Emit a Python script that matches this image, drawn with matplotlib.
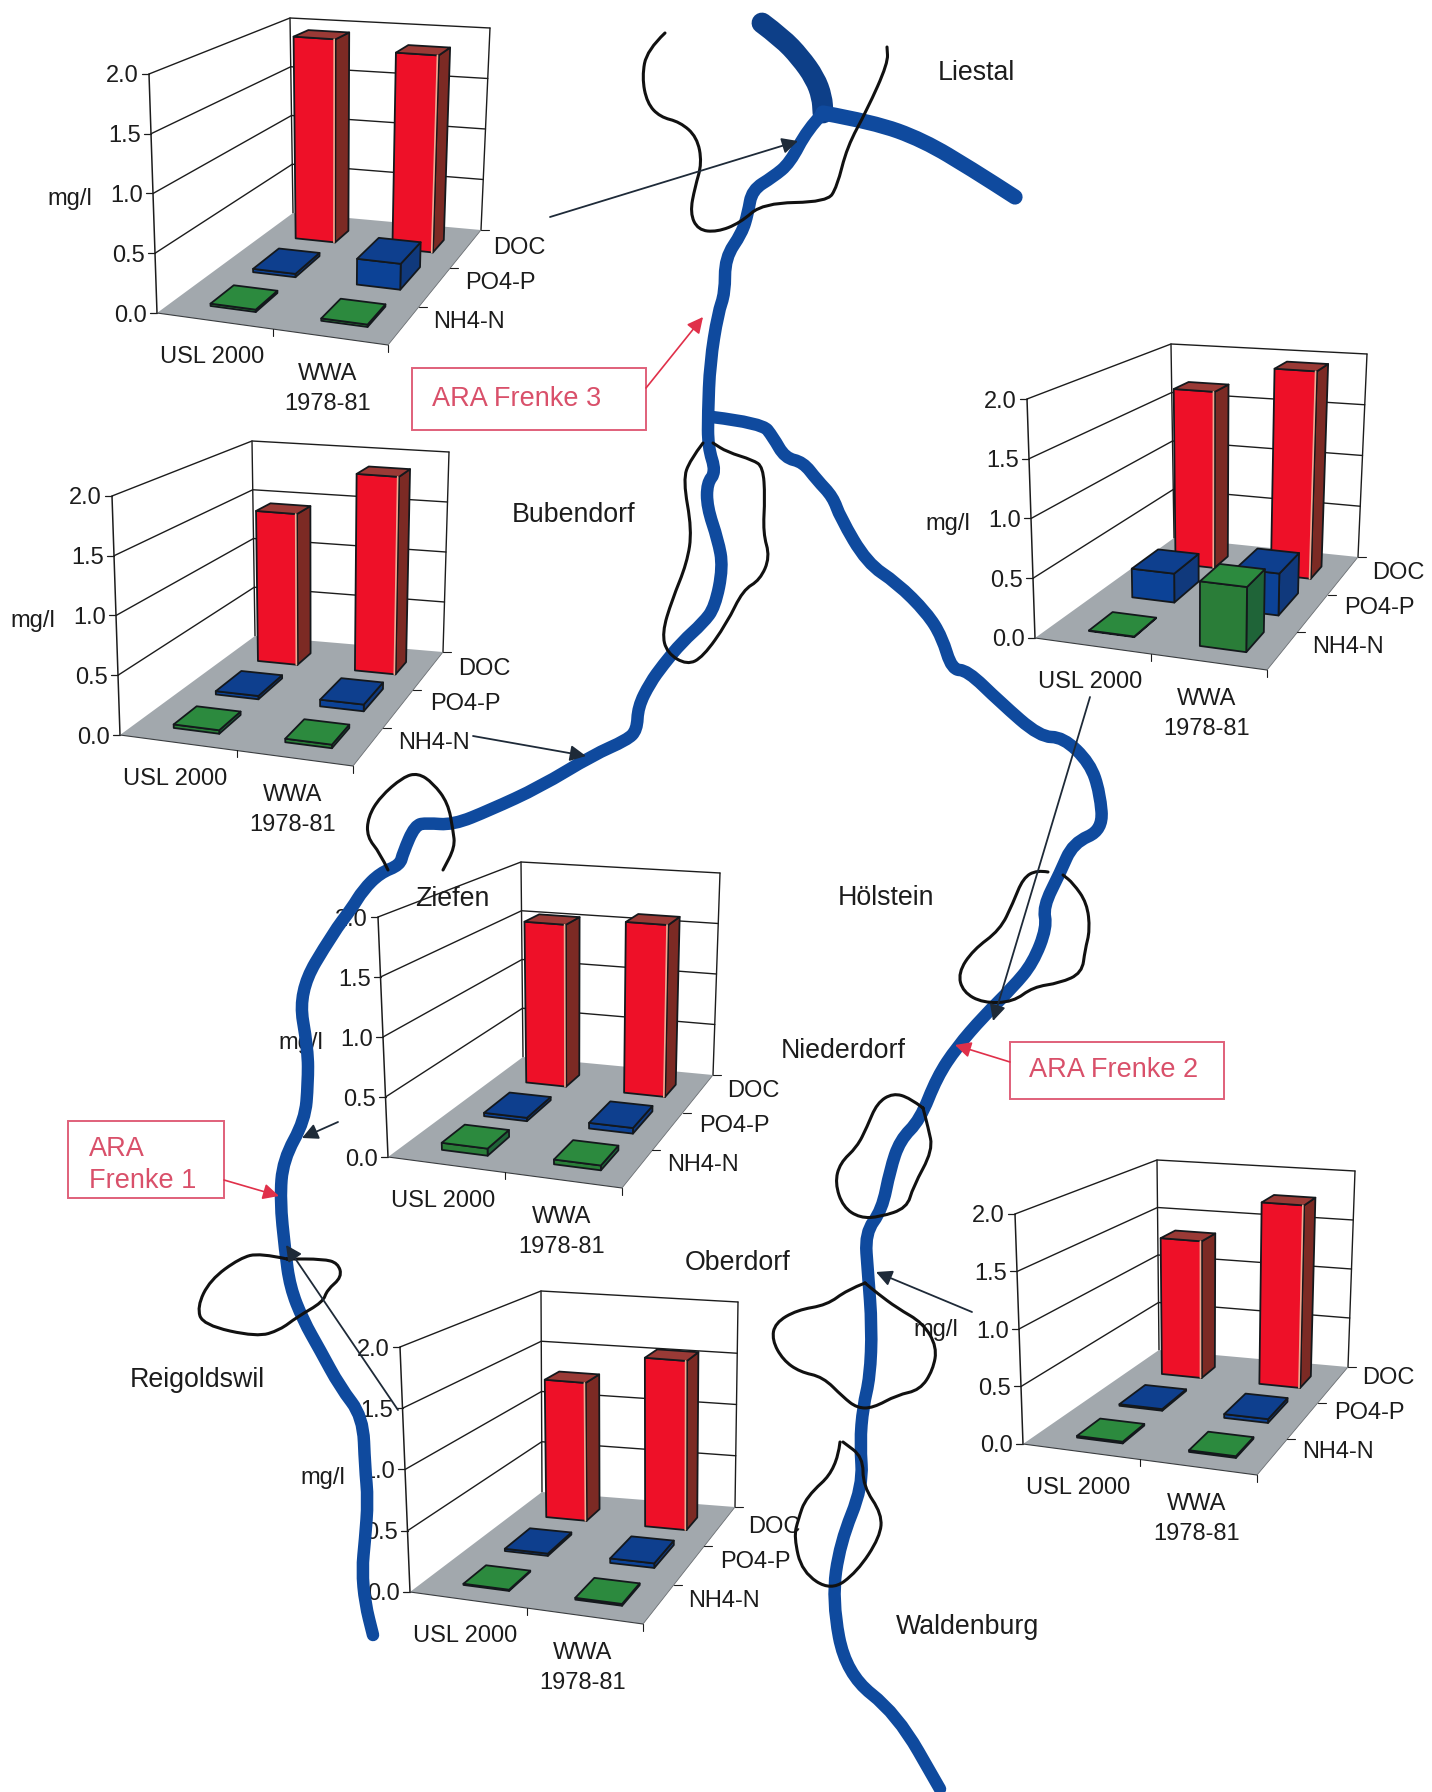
import numpy as np
import matplotlib
matplotlib.use("Agg")
import matplotlib.pyplot as plt
from matplotlib.patches import Polygon, PathPatch, Rectangle
from matplotlib.path import Path

plt.rcParams['font.family'] = ['Liberation Sans', 'DejaVu Sans']

W, H = 1432, 1792

# Concentrations in mg/l at the six stations, two surveys each
station_names = ["Liestal", "Bubendorf", "Hoelstein", "Ziefen", "Oberdorf", "Reigoldswil"]
doc_usl = [1.96, 1.46, 1.70, 1.56, 1.36, 1.30]
doc_wwa = [1.87, 1.89, 1.96, 1.63, 1.79, 1.58]
po4_usl = [0.03, 0.03, 0.26, 0.03, 0.015, 0.02]
po4_wwa = [0.23, 0.06, 0.37, 0.05, 0.035, 0.04]
nh4_usl = [0.02, 0.03, 0.005, 0.06, 0.015, 0.01]
nh4_wwa = [0.02, 0.03, 0.54, 0.04, 0.015, 0.015]

z_ticks = [0.0, 0.5, 1.0, 1.5, 2.0]
series_labels = ["NH4-N", "PO4-P", "DOC"]

# Chart frames in figure pixels:
# floor front-left, wall top front-left, back-left top, back-left floor,
# back-right top, back-right floor, floor front-right
frames = [
    [(157, 313), (149, 74), (290, 18), (293, 213), (490, 28), (481, 230), (388, 345)],
    [(120, 735), (112, 496), (252, 441), (255, 636), (449, 452), (443, 652), (353, 766)],
    [(1035, 638), (1027, 399), (1171, 344), (1174, 538), (1367, 354), (1358, 557), (1267, 670)],
    [(388, 1157), (378, 917), (521, 862), (523, 1057), (720, 873), (713, 1075), (622, 1188)],
    [(1023, 1444), (1015, 1214), (1157, 1160), (1159, 1350), (1355, 1171), (1348, 1367), (1257, 1475)],
    [(410, 1592), (400, 1347), (541, 1291), (542, 1492), (738, 1302), (735, 1507), (643, 1624)],
]

# Bar footprints on the floor, as fractions of its width and depth
col_spans = [(0.165, 0.365), (0.655, 0.86)]
row_spans = [(0.12, 0.30), (0.45, 0.65), (0.78, 0.89)]

RED = dict(front="#ee1028", side="#7c2a24", top="#9a3a36", shine="#f0a890")
BLUE = dict(front="#0c4296", side="#10397c", top="#0e3f8e", shine=None)
GREEN = dict(front="#2a7d38", side="#1f6438", top="#2c8a3e", shine=None)
row_colors = [GREEN, BLUE, RED]

INK = "#1c1c1c"
RIVER = "#0f4a9e"
PINK = "#d9506a"

# Map lines in figure pixels
ergolz_upper = [(762, 23), (782, 38), (800, 57), (815, 78), (822, 97), (823, 113)]
ergolz_lower = [(823, 113), (873, 122), (923, 140), (973, 170), (1015, 197)]
frenke_main = [
    (823, 113), (807, 130), (790, 163), (773, 177), (752, 190), (748, 213), (742, 233), (725, 258),
    (725, 293), (718, 313), (710, 363), (708, 413), (708, 447), (716, 472), (707, 483), (707, 507),
    (718, 540), (723, 567), (715, 607), (703, 623), (682, 642), (663, 665), (650, 683), (638, 707),
    (637, 730), (627, 740), (593, 755), (540, 787), (490, 810), (453, 825), (427, 823), (415, 825),
    (403, 853), (400, 865), (380, 873), (363, 890), (352, 908), (333, 933), (298, 992), (308, 1050),
    (308, 1083), (305, 1120), (283, 1160), (280, 1200), (285, 1250), (290, 1287), (303, 1320),
    (320, 1350), (340, 1387), (363, 1417), (365, 1467), (368, 1500), (365, 1540), (362, 1570),
    (365, 1603), (373, 1635),
]
frenke_east = [
    (712, 417), (762, 423), (773, 437), (785, 458), (803, 462), (817, 480), (833, 497), (840, 517),
    (867, 563), (897, 583), (927, 613), (942, 637), (952, 670), (967, 670), (1000, 702), (1040, 737),
    (1063, 737), (1090, 763), (1100, 793), (1103, 830), (1073, 843), (1060, 873), (1043, 907),
    (1047, 927), (1033, 963), (1013, 987), (983, 1017), (957, 1047), (937, 1077), (920, 1120),
    (900, 1140), (890, 1170), (882, 1210), (865, 1233), (868, 1273), (872, 1327), (870, 1377),
    (863, 1407), (860, 1443), (863, 1486), (840, 1543), (832, 1600), (846, 1674), (897, 1714),
    (940, 1789),
]

outline_liestal = [
    (665, 33), (647, 50), (642, 77), (647, 103), (660, 117), (680, 122), (697, 137), (702, 163),
    (695, 187), (690, 213), (698, 230), (717, 232), (740, 223), (763, 203), (827, 202), (837, 187),
    (847, 147), (867, 110), (888, 63), (887, 47),
]
outline_bubendorf = [
    (703, 443), (690, 460), (683, 480), (692, 530), (687, 563), (672, 600), (662, 633), (667, 653),
    (687, 665), (703, 657), (727, 623), (743, 590), (760, 580), (770, 557), (763, 533), (765, 497),
    (763, 467), (753, 460), (727, 452), (713, 443),
]
outline_ziefen = [
    (388, 870), (380, 853), (367, 837), (368, 817), (380, 797), (403, 777), (418, 773), (433, 783),
    (448, 803), (453, 830), (455, 847), (443, 870),
]
outline_hoelstein = [
    (1048, 872), (1037, 870), (1023, 878), (1013, 903), (1000, 930), (973, 950), (958, 973),
    (963, 992), (983, 1003), (1013, 1002), (1033, 987), (1060, 983), (1082, 973), (1085, 950),
    (1090, 930), (1087, 903), (1073, 883), (1063, 875),
]
outline_niederdorf = [
    (923, 1108), (910, 1098), (893, 1093), (877, 1103), (867, 1127), (857, 1147), (840, 1163),
    (835, 1183), (843, 1207), (860, 1218), (880, 1217), (907, 1208), (913, 1187), (933, 1150),
    (928, 1127), (923, 1108),
]
outline_oberdorf = [
    (865, 1283), (847, 1290), (827, 1305), (797, 1310), (775, 1323), (772, 1340), (783, 1360),
    (800, 1372), (823, 1377), (843, 1397), (857, 1408), (873, 1408), (897, 1395), (920, 1390),
    (933, 1370), (937, 1347), (923, 1323), (897, 1308), (877, 1293), (865, 1283),
]
outline_waldenburg = [
    (840, 1442), (837, 1469), (806, 1497), (798, 1520), (794, 1537), (802, 1572), (831, 1591),
    (857, 1572), (880, 1537), (882, 1514), (863, 1486), (863, 1457), (843, 1442),
]
outline_reigoldswil = [
    (287, 1259), (260, 1253), (240, 1258), (210, 1280), (197, 1307), (203, 1325), (257, 1337),
    (280, 1330), (297, 1317), (323, 1302), (327, 1290), (342, 1277), (338, 1263), (323, 1259),
    (287, 1259),
]
outlines = [outline_liestal, outline_bubendorf, outline_ziefen, outline_hoelstein,
            outline_niederdorf, outline_oberdorf, outline_waldenburg, outline_reigoldswil]

place_names = [("Liestal", 976, 73), ("Bubendorf", 574, 515), ("Ziefen", 452, 899),
               ("Hölstein", 886, 898), ("Niederdorf", 843, 1051), ("Oberdorf", 738, 1263),
               ("Reigoldswil", 197, 1380), ("Waldenburg", 968, 1627)]

station_arrows = [((550, 217), (798, 141)), ((473, 736), (586, 756)), ((1090, 697), (993, 1021)),
                  ((338, 1122), (302, 1138)), ((972, 1312), (876, 1272)), ((398, 1410), (286, 1245))]


class Frame:
    """Oblique view of one chart: floor position plus a height vector, both bilinear."""

    def __init__(self, corners):
        f00, tfl, tbl, f01, tbr, f11, f10 = [np.array(c, float) for c in corners]
        self.f00, self.f10, self.f01, self.f11 = f00, f10, f01, f11
        self.z00 = tfl - f00
        self.z01 = tbl - f01
        self.z11 = tbr - f11
        self.z10 = self.z00 + self.z11 - self.z01

    def __call__(self, u, v, z=0.0):
        floor = ((1 - u) * (1 - v) * self.f00 + u * (1 - v) * self.f10
                 + (1 - u) * v * self.f01 + u * v * self.f11)
        rise = ((1 - u) * (1 - v) * self.z00 + u * (1 - v) * self.z10
                + (1 - u) * v * self.z01 + u * v * self.z11)
        return floor + rise * z / 2.0


fig = plt.figure(figsize=(W / 100, H / 100), dpi=100, facecolor="white")
ax = fig.add_axes([0, 0, 1, 1])
ax.set_xlim(0, W)
ax.set_ylim(H, 0)
ax.axis("off")


def line(points, lw=1.0, color=INK, zorder=2):
    pts = np.array(points)
    ax.plot(pts[:, 0], pts[:, 1], color=color, lw=lw, zorder=zorder, solid_capstyle="round")


def draw_bar(P, col, row, value, style, zorder):
    u0, u1 = col_spans[col]
    v0, v1 = row_spans[row]
    edge = "#14181c"
    top = [P(u0, v0, value), P(u1, v0, value), P(u1, v1, value), P(u0, v1, value)]
    front = [P(u0, v0), P(u1, v0), P(u1, v0, value), P(u0, v0, value)]
    side = [P(u1, v0), P(u1, v1), P(u1, v1, value), P(u1, v0, value)]
    for poly, color in ((side, style["side"]), (front, style["front"]), (top, style["top"])):
        ax.add_patch(Polygon(poly, closed=True, facecolor=color, edgecolor=edge,
                             lw=1.3, joinstyle="round", zorder=zorder))
    if style["shine"] and value > 0.3:
        line([P(u1 - 0.006, v0, 0.0), P(u1 - 0.006, v0, value)], lw=1.2,
             color=style["shine"], zorder=zorder + 0.1)


def draw_chart(index):
    P = Frame(frames[index])

    # walls and gridlines
    for z in z_ticks[1:]:
        line([P(0, 0, z), P(0, 1, z), P(1, 1, z)], lw=1.0)
    line([P(0, 0, 0), P(0, 0, 2)], lw=1.1)
    line([P(0, 1, 0), P(0, 1, 2)], lw=1.0)
    line([P(1, 1, 0), P(1, 1, 2)], lw=1.0)

    # value axis ticks and labels
    for z in z_ticks:
        p = P(0, 0, z)
        line([p, p + np.array([-7, 0])], lw=0.9)
        ax.text(p[0] - 10, p[1], f"{z:.1f}", ha="right", va="center_baseline",
                fontsize=17, color=INK, zorder=3)

    # floor
    ax.add_patch(Polygon([P(0, 0), P(1, 0), P(1, 1), P(0, 1)], closed=True,
                         facecolor="#a2a8ad", edgecolor="none", zorder=2.5))
    line([P(0, 0), P(1, 0)], lw=0.8, color="#3a3d40", zorder=2.6)
    line([P(1, 0), P(1, 1)], lw=0.6, color="#6a6e72", zorder=2.6)

    # category and series ticks
    for u in (0.5, 1.0):
        p = P(u, 0)
        line([p, p + np.array([0, 7])], lw=0.8, zorder=2.6)
    for v in (1 / 3, 2 / 3, 1.0):
        p = P(1, v)
        line([p, p + np.array([8, 0])], lw=0.8, zorder=2.6)

    # bars, back row first
    rows = [(nh4_usl, nh4_wwa), (po4_usl, po4_wwa), (doc_usl, doc_wwa)]
    for r in (2, 1, 0):
        for c in (0, 1):
            draw_bar(P, c, r, rows[r][c][index], row_colors[r], zorder=4 + (2 - r) + c * 0.1)

    # labels
    fl = np.array(frames[index][0], float)
    fr = np.array(frames[index][6], float)
    ax.text(fl[0] - 87, fl[1] - 114, "mg/l", ha="center", va="center", fontsize=17, color=INK, zorder=3)
    ax.text(fl[0] + 55, fl[1] + 44, "USL 2000", ha="center", va="center", fontsize=17, color=INK, zorder=3)
    ax.text(fr[0] - 60, fr[1] + 29, "WWA", ha="center", va="center", fontsize=17, color=INK, zorder=3)
    ax.text(fr[0] - 60, fr[1] + 59, "1978-81", ha="center", va="center", fontsize=17, color=INK, zorder=3)
    for label, (dx, dy) in zip(series_labels, [(81, -23), (112, -62), (131, -97)]):
        ax.text(fr[0] + dx, fr[1] + dy, label, ha="center", va="center", fontsize=17, color=INK, zorder=3)


for i in range(len(frames)):
    draw_chart(i)


def spline_path(points):
    """Quadratic spline through the midpoints of the given control points."""
    pts = [np.array(p, float) for p in points]
    verts = [pts[0]]
    codes = [Path.MOVETO]
    for a, b in zip(pts[1:-1], pts[2:]):
        verts += [a, (a + b) / 2]
        codes += [Path.CURVE3, Path.CURVE3]
    verts.append(pts[-1])
    codes.append(Path.LINETO)
    return Path(verts, codes)


def stroke(points, width, color, zorder):
    ax.add_patch(PathPatch(spline_path(points), facecolor="none", edgecolor=color, lw=width,
                           capstyle="round", joinstyle="round", zorder=zorder))


stroke(ergolz_upper, 15.0, "#0d3f88", 10)
stroke(ergolz_lower, 11.0, RIVER, 10)
stroke(frenke_main, 9.0, RIVER, 10)
stroke(frenke_east, 9.0, RIVER, 10)

for outline in outlines:
    stroke(outline, 2.2, "#111111", 11)

for name, x, y in place_names:
    ax.text(x, y, name, ha="center", va="center", fontsize=19.3, color=INK, zorder=12)

for start, tip in station_arrows:
    ax.annotate("", xy=tip, xytext=start, zorder=13,
                arrowprops=dict(arrowstyle="-|>", color="#1e2a38", lw=1.3, mutation_scale=24,
                                shrinkA=0, shrinkB=0))

# Treatment plant call-outs
boxes = [
    ((412, 368, 234, 62), (646, 388), (703, 317)),
    ((1010, 1042, 214, 57), (1010, 1062), (955, 1045)),
    ((68, 1121, 156, 77), (224, 1180), (279, 1196)),
]
for (x, y, w, h), start, tip in boxes:
    ax.add_patch(Rectangle((x, y), w, h, facecolor="white", edgecolor="#e0607a", lw=1.4, zorder=14))
    ax.annotate("", xy=tip, xytext=start, zorder=15,
                arrowprops=dict(arrowstyle="-|>", color="#e0304a", lw=1.2, mutation_scale=24,
                                shrinkA=0, shrinkB=0))
ax.text(517, 399, "ARA Frenke 3", ha="center", va="center", fontsize=19.5, color=PINK, zorder=16)
ax.text(1114, 1070, "ARA Frenke 2", ha="center", va="center", fontsize=19.5, color=PINK, zorder=16)
ax.text(89, 1149, "ARA", ha="left", va="center", fontsize=19.5, color=PINK, zorder=16)
ax.text(89, 1181, "Frenke 1", ha="left", va="center", fontsize=19.5, color=PINK, zorder=16)

fig.savefig("out.png", dpi=100, facecolor="white")
